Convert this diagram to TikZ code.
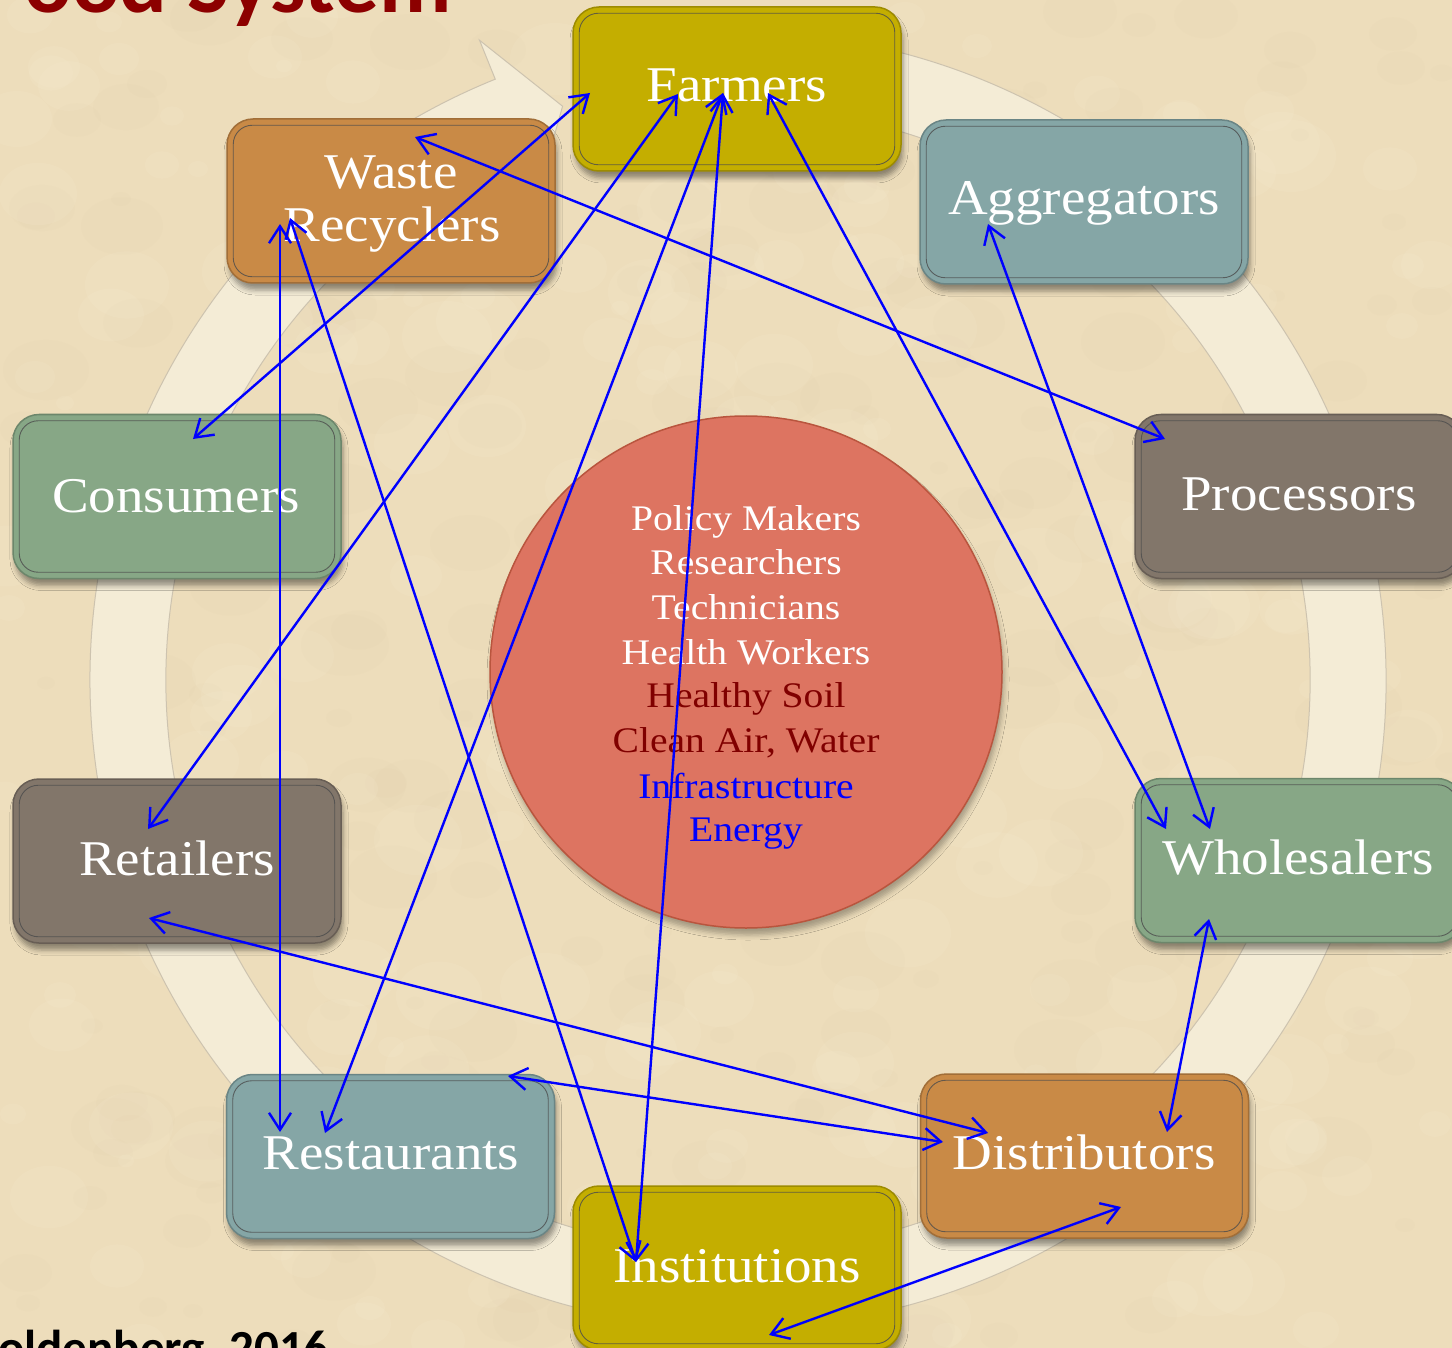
\documentclass[tikz,border=0pt]{standalone}
\usepackage{fontspec}
\setmainfont{Liberation Serif}[FakeStretch=1.1]
\newfontfamily\labelsans{Carlito}
\usetikzlibrary{arrows.meta,shadows.blur,calc}

\definecolor{bgc}{RGB}{237,221,187}
\definecolor{bgdark}{RGB}{214,190,148}
\definecolor{bglight}{RGB}{250,240,216}
\definecolor{ringc}{RGB}{244,236,214}
\definecolor{ringline}{RGB}{205,195,175}
\definecolor{olivec}{RGB}{196,174,0}
\definecolor{orangec}{RGB}{201,138,70}
\definecolor{tealc}{RGB}{133,166,166}
\definecolor{greenc}{RGB}{135,167,134}
\definecolor{greyc}{RGB}{130,118,106}
\definecolor{corec}{RGB}{221,116,97}
\definecolor{corel}{RGB}{185,85,62}
\definecolor{darkred}{RGB}{128,0,0}
\definecolor{titlered}{RGB}{140,0,0}
\definecolor{linkblue}{RGB}{0,0,255}

\tikzset{
  sysboxstyle/.style={rounded corners=26pt, minimum width=328pt, minimum height=164pt,
    inner sep=0pt, line width=1.5pt,
    blur shadow={shadow xshift=2pt, shadow yshift=-7pt, shadow blur radius=5pt, shadow opacity=40}},
  innerline/.style={rounded corners=19pt, line width=0.9pt, draw=black!70, opacity=0.8},
  boxtext/.style={text=white, font=\fontsize{50}{56}\selectfont, anchor=base, inner sep=0pt},
  coretext/.style={font=\fontsize{36}{42}\selectfont, anchor=base, inner sep=0pt},
  link/.style={draw=linkblue, line width=2.4pt, line cap=round,
    arrows={Straight Barb[length=17pt,width=22pt]-Straight Barb[length=17pt,width=22pt]}},
}

\newcommand\sysbox[4]{%
  \node[sysboxstyle, fill=#4, draw=#4!80!black] (#1) at (#2,#3) {};
  \draw[innerline] ($(#1.north west)+(7,7)$) rectangle ($(#1.south east)+(-7,-7)$);
}

\begin{document}
\begin{tikzpicture}[x=1pt,y=-1pt]
\useasboundingbox (0,0) rectangle (1452,1348);
\fill[bgc] (0,0) rectangle (1452,1348);

% paper texture
\pgfmathsetseed{12}
\foreach \i in {1,...,260}{
  \pgfmathsetmacro\xx{random(0,1452)}
  \pgfmathsetmacro\yy{random(0,1348)}
  \pgfmathsetmacro\rr{random(8,45)}
  \fill[bgdark, opacity=0.05] (\xx,\yy) ellipse[x radius=\rr, y radius=0.7*\rr];
}
\foreach \i in {1,...,260}{
  \pgfmathsetmacro\xx{random(0,1452)}
  \pgfmathsetmacro\yy{random(0,1348)}
  \pgfmathsetmacro\rr{random(8,45)}
  \fill[bglight, opacity=0.12] (\xx,\yy) ellipse[x radius=\rr, y radius=0.8*\rr];
}

% title and credit (cut by the page edge)
\node[anchor=base west, inner sep=0pt, text=titlered, font=\labelsans\bfseries\fontsize{89}{90}\selectfont] (title) at (24,13) {ood System};
\node[anchor=base west, inner sep=0pt, text=black, font=\labelsans\bfseries\fontsize{49}{52}\selectfont] (credit) at (-2,1364) {oldenberg, 2016};

% circular arrow
\coordinate (C) at (738,680);
\filldraw[fill=ringc, draw=ringline, line width=1pt]
  ($(C)+(-112:690)$) -- ($(C)+(-107:600)$) -- ($(C)+(-112:530)$) -- ($(C)+(-112:572)$)
  arc[start angle=-112, end angle=-460, radius=572]
  -- ($(C)+(-460:648)$)
  arc[start angle=-460, end angle=-112, radius=648] -- cycle;

% boxes
\sysbox{farmers}{737}{89}{olivec}
\sysbox{waste}{391}{201}{orangec}
\sysbox{aggregators}{1084}{202}{tealc}
\sysbox{consumers}{177}{496.5}{greenc}
\sysbox{processors}{1299}{496.5}{greyc}
\sysbox{retailers}{177}{861}{greyc}
\sysbox{wholesalers}{1299}{860.5}{greenc}
\sysbox{restaurants}{390.5}{1156.5}{tealc}
\sysbox{distributors}{1084.5}{1156}{orangec}
\sysbox{institutions}{737}{1268}{olivec}

% core circle
\node[circle, minimum size=512pt, inner sep=0pt, fill=corec, draw=corel, line width=1.5pt,
  blur shadow={shadow xshift=2pt, shadow yshift=-7pt, shadow blur radius=5pt, shadow opacity=30}] (core) at (746,672) {};

% box labels
\node[boxtext] (farmers-t) at (737,102) {Farmers};
\node[boxtext] (waste-t1) at (391,189) {Waste};
\node[boxtext] (waste-t2) at (392,242) {Recyclers};
\node[boxtext] (aggregators-t) at (1084,215) {Aggregators};
\node[boxtext] (consumers-t) at (176,512) {Consumers};
\node[boxtext] (processors-t) at (1299,510) {Processors};
\node[boxtext] (retailers-t) at (177,875) {Retailers};
\node[boxtext] (wholesalers-t) at (1298,874) {Wholesalers};
\node[boxtext] (restaurants-t) at (391,1169) {Restaurants};
\node[boxtext] (distributors-t) at (1084,1169) {Distributors};
\node[boxtext] (institutions-t) at (737,1282) {Institutions};

% core labels
\node[coretext, text=white] (c1) at (746,530) {Policy Makers};
\node[coretext, text=white] (c2) at (746,574) {Researchers};
\node[coretext, text=white] (c3) at (746,619) {Technicians};
\node[coretext, text=white] (c4) at (746,664) {Health Workers};
\node[coretext, text=darkred] (c5) at (746,707) {Healthy Soil};
\node[coretext, text=darkred] (c6) at (746,752) {Clean Air, Water};
\node[coretext, text=linkblue] (c7) at (746,798) {Infrastructure};
\node[coretext, text=linkblue] (c8) at (746,841) {Energy};

% connector end points
\coordinate (fA) at (590,93);
\coordinate (fB) at (678,94);
\coordinate (fC) at (723,93);
\coordinate (fD) at (768,93);
\coordinate (wA) at (415,137);
\coordinate (wB) at (280,224);
\coordinate (wC) at (290,218);
\coordinate (aA) at (988,224);
\coordinate (cA) at (193,439);
\coordinate (pA) at (1165,439);
\coordinate (rA) at (148,829);
\coordinate (rB) at (149,918);
\coordinate (hA) at (1166,829);
\coordinate (hB) at (1210,829);
\coordinate (hC) at (1209,919);
\coordinate (sA) at (280,1132);
\coordinate (sB) at (325,1133);
\coordinate (sC) at (508,1076);
\coordinate (dA) at (988,1133);
\coordinate (dB) at (943,1142);
\coordinate (dC) at (1167,1132);
\coordinate (dD) at (1121,1207);
\coordinate (iA) at (636,1262);
\coordinate (iB) at (769,1335);

% connectors
\draw[link] (fA) -- (cA);
\draw[link] (fB) -- (rA);
\draw[link] (fC) -- (sB);
\draw[link] (fC) -- (iA);
\draw[link] (fD) -- (hA);
\draw[link] (wA) -- (pA);
\draw[link] (wB) -- (sA);
\draw[link] (wC) -- (iA);
\draw[link] (aA) -- (hB);
\draw[link] (hC) -- (dC);
\draw[link] (rB) -- (dA);
\draw[link] (sC) -- (dB);
\draw[link] (iB) -- (dD);
\end{tikzpicture}
\end{document}
